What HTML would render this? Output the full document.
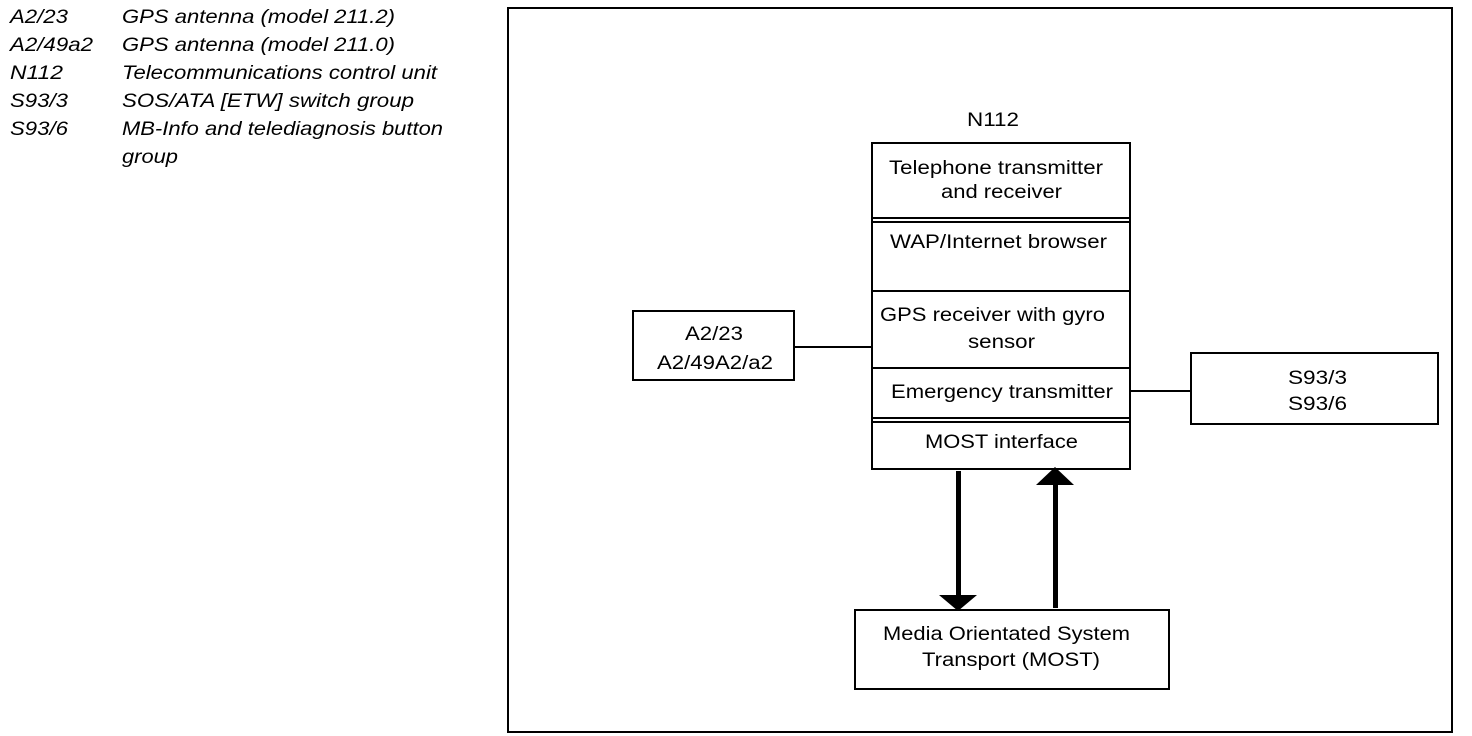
<!DOCTYPE html>
<html><head><meta charset="utf-8"><style>
html,body{margin:0;padding:0;background:#fff;}
svg{display:block;}
text{font-family:"Liberation Sans",Arial,sans-serif;fill:#000;font-size:19px;}
.it{font-style:italic;}
</style></head><body>
<svg width="1472" height="736" viewBox="0 0 1472 736" xmlns="http://www.w3.org/2000/svg">
<g>
<text x="10" y="23" class="it" textLength="58" lengthAdjust="spacingAndGlyphs">A2/23</text><text x="122" y="23" class="it" textLength="273" lengthAdjust="spacingAndGlyphs">GPS antenna (model 211.2)</text>
<text x="10" y="51" class="it" textLength="83" lengthAdjust="spacingAndGlyphs">A2/49a2</text><text x="122" y="51" class="it" textLength="273" lengthAdjust="spacingAndGlyphs">GPS antenna (model 211.0)</text>
<text x="10" y="79" class="it" textLength="53" lengthAdjust="spacingAndGlyphs">N112</text><text x="122" y="79" class="it" textLength="315" lengthAdjust="spacingAndGlyphs">Telecommunications control unit</text>
<text x="10" y="107" class="it" textLength="58" lengthAdjust="spacingAndGlyphs">S93/3</text><text x="122" y="107" class="it" textLength="292" lengthAdjust="spacingAndGlyphs">SOS/ATA [ETW] switch group</text>
<text x="10" y="135" class="it" textLength="58" lengthAdjust="spacingAndGlyphs">S93/6</text><text x="122" y="135" class="it" textLength="321" lengthAdjust="spacingAndGlyphs">MB-Info and telediagnosis button</text>
<text x="122" y="163" class="it" textLength="56" lengthAdjust="spacingAndGlyphs">group</text>
</g>
<g fill="none" stroke="#000" stroke-width="2">
<rect x="508" y="8" width="944" height="724"/>
<rect x="872" y="143" width="258" height="326"/>
<line x1="872" y1="218" x2="1130" y2="218"/>
<line x1="872" y1="222" x2="1130" y2="222"/>
<line x1="872" y1="291" x2="1130" y2="291"/>
<line x1="872" y1="368" x2="1130" y2="368"/>
<line x1="872" y1="418" x2="1130" y2="418"/>
<line x1="872" y1="422" x2="1130" y2="422"/>
<rect x="633" y="311" width="161" height="69"/>
<line x1="794" y1="347" x2="872" y2="347"/>
<rect x="1191" y="353" width="247" height="71"/>
<line x1="1130" y1="391" x2="1191" y2="391"/>
<rect x="855" y="610" width="314" height="79"/>
</g>
<rect x="956" y="471" width="5" height="126" fill="#000"/>
<polygon points="939,595 977,595 958,611" fill="#000"/>
<rect x="1053" y="482" width="5" height="126" fill="#000"/>
<polygon points="1036,485 1074,485 1055,467" fill="#000"/>
<g>
<text x="967" y="126" textLength="52" lengthAdjust="spacingAndGlyphs">N112</text>
<text x="889" y="174" textLength="214" lengthAdjust="spacingAndGlyphs">Telephone transmitter</text>
<text x="941" y="198" textLength="121" lengthAdjust="spacingAndGlyphs">and receiver</text>
<text x="890" y="248" textLength="217" lengthAdjust="spacingAndGlyphs">WAP/Internet browser</text>
<text x="880" y="321" textLength="225" lengthAdjust="spacingAndGlyphs">GPS receiver with gyro</text>
<text x="968" y="348" textLength="67" lengthAdjust="spacingAndGlyphs">sensor</text>
<text x="891" y="398" textLength="222" lengthAdjust="spacingAndGlyphs">Emergency transmitter</text>
<text x="925" y="448" textLength="153" lengthAdjust="spacingAndGlyphs">MOST interface</text>
<text x="685" y="340" textLength="58" lengthAdjust="spacingAndGlyphs">A2/23</text>
<text x="657" y="369" textLength="116" lengthAdjust="spacingAndGlyphs">A2/49A2/a2</text>
<text x="1288" y="384" textLength="59" lengthAdjust="spacingAndGlyphs">S93/3</text>
<text x="1288" y="410" textLength="59" lengthAdjust="spacingAndGlyphs">S93/6</text>
<text x="883" y="640" textLength="247" lengthAdjust="spacingAndGlyphs">Media Orientated System</text>
<text x="922" y="666" textLength="178" lengthAdjust="spacingAndGlyphs">Transport (MOST)</text>
</g>
</svg>
</body></html>
